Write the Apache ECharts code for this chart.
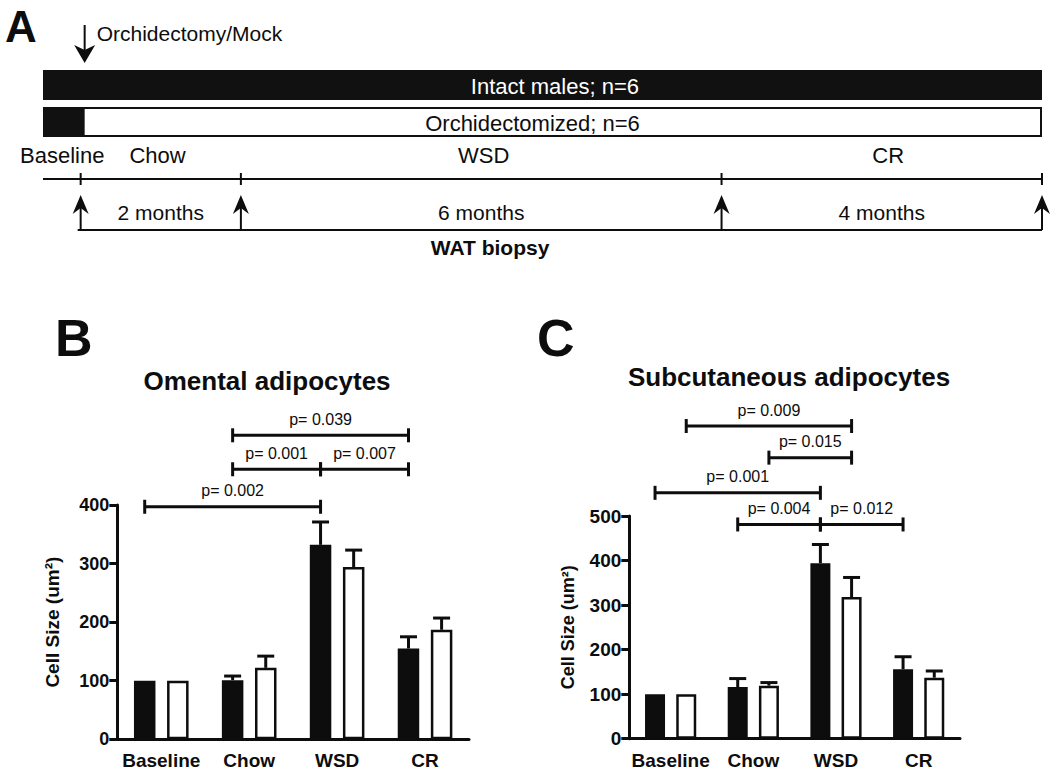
<!DOCTYPE html>
<html><head><meta charset="utf-8">
<script src="https://cdn.jsdelivr.net/npm/echarts@6/dist/echarts.min.js"></script>
<style>html,body{margin:0;padding:0;background:#fff}#c{width:1050px;height:780px}</style>
</head><body><div id="c"></div>
<script>
// ---------------- DATA ----------------
const categories = ['Baseline', 'Chow', 'WSD', 'CR'];
const groupNames = ['Intact males', 'Orchidectomized'];

// Panel B: Omental adipocytes (cell size, um^2)
const omentalIntact    = [100, 101, 332, 155];
const omentalIntactTop = [null, 108, 371, 175];   // top of error bar
const omentalOrx       = [100, 122, 294, 187];
const omentalOrxTop    = [null, 142, 323, 207];
const omentalTicks     = [0, 100, 200, 300, 400];
// brackets: [fromCategory, fromGroup, toCategory, toGroup, level]
const omentalBrackets  = [[0,0,2,0,397],[1,0,2,0,461],[2,0,3,0,461],[1,0,3,0,519]];
const omentalP         = ['p= 0.002','p= 0.001','p= 0.007','p= 0.039'];

// Panel C: Subcutaneous adipocytes
const subcutIntact    = [100, 116, 394, 156];
const subcutIntactTop = [null, 135, 436, 184];
const subcutOrx       = [100, 119, 318, 137];
const subcutOrxTop    = [null, 126, 362, 152];
const subcutTicks     = [0, 100, 200, 300, 400, 500];
const subcutBrackets  = [[0,1,2,1,702],[1,1,2,1,631],[0,0,2,0,552],[1,0,2,0,481],[2,0,3,0,481]];
const subcutP         = ['p= 0.009','p= 0.015','p= 0.001','p= 0.004','p= 0.012'];

// Panel A: study timeline (months)
const cohortNames      = ['Intact males; n=6', 'Orchidectomized; n=6'];
const cohortLabelAt    = [5.92, 5.64];
const orchidectomyMonth = 0.05;
const phaseNames       = ['Baseline', 'Chow', 'WSD', 'CR'];
const phaseLabelAt     = [-0.23, 0.96, 5.03, 10.08];
const biopsyMonths     = [0, 2, 8, 12];
const intervalLabels   = ['2 months', '6 months', '4 months'];
const watLabelAt       = 5.11;

// ---------------- LAYOUT / STYLE ----------------
const FONT = "'Liberation Sans', Arial, Helvetica, sans-serif";
const BLACK = '#0d0d0d';
const timelineStart = -0.47;
const TL = {bar1Top:70, bar2Top:107, barH:30, phaseY:155, lineY:179, tickH:6,
            tip:195, base:214, notch:208, bottom:230, monthsY:212, watY:247,
            orchTop:25, orchTip:63, orchHeadTop:45, orchTextY:33};
const CFG = [{barW:21.5, gap:0.54}, {barW:20, gap:0.56}];

function sideOffset(cfg, side) { return (side === 0 ? -1 : 1) * cfg.barW * (1 + cfg.gap) / 2; }

function barSeries(grid, cfg, name, values, fill) {
  return {type:'bar', name, xAxisIndex:grid, yAxisIndex:grid, data:values,
    barWidth:cfg.barW, barGap:(cfg.gap*100)+'%', z:3,
    itemStyle:{color:fill, borderColor:BLACK, borderWidth:2.5}};
}

function errorSeries(grid, cfg, side, means, tops) {
  const data = [];
  means.forEach((m, i) => { if (tops[i] != null) data.push([i, m, tops[i]]); });
  return {type:'custom', xAxisIndex:grid, yAxisIndex:grid, data, encode:{x:0, y:[1,2]}, z:2,
    renderItem(params, api) {
      const p0 = api.coord([api.value(0), api.value(1)]);
      const p1 = api.coord([api.value(0), api.value(2)]);
      const x = p0[0] + sideOffset(cfg, side);
      const st = {stroke:BLACK, lineWidth:3};
      return {type:'group', children:[
        {type:'line', shape:{x1:x, y1:p0[1], x2:x, y2:p1[1]}, style:st},
        {type:'line', shape:{x1:x-8.5, y1:p1[1], x2:x+8.5, y2:p1[1]}, style:st}
      ]};
    }};
}

function bracketSeries(grid, cfg, brackets, labels) {
  return {type:'custom', xAxisIndex:grid, yAxisIndex:grid, data:brackets, encode:{x:[0,2], y:4}, z:5, clip:false,
    renderItem(params, api) {
      const lv = api.value(4);
      const a = api.coord([api.value(0), lv]);
      const b = api.coord([api.value(2), lv]);
      const x1 = a[0] + sideOffset(cfg, api.value(1));
      const x2 = b[0] + sideOffset(cfg, api.value(3));
      const y = a[1];
      const st = {stroke:BLACK, lineWidth:3};
      return {type:'group', children:[
        {type:'line', shape:{x1, y1:y, x2, y2:y}, style:st},
        {type:'line', shape:{x1:x1, y1:y-7, x2:x1, y2:y+7}, style:st},
        {type:'line', shape:{x1:x2, y1:y-7, x2:x2, y2:y+7}, style:st},
        {type:'text', x:(x1+x2)/2, y:y-16, style:{text:labels[params.dataIndex], align:'center',
          verticalAlign:'middle', fontSize:16, fontFamily:FONT, fill:BLACK}}
      ]};
    }};
}

function xAxisCfg(grid) {
  return {type:'category', gridIndex:grid, data:categories, boundaryGap:true,
    axisLine:{lineStyle:{color:BLACK, width:3}},
    axisTick:{alignWithLabel:true, interval:0, length:8, lineStyle:{color:BLACK, width:3}},
    axisLabel:{interval:0, color:BLACK, fontWeight:'bold', fontSize:19, fontFamily:FONT, margin:12}};
}
function yAxisCfg(grid, ticks, labelSize, nameSize, nameGap) {
  return {type:'value', gridIndex:grid, min:ticks[0], max:ticks[ticks.length-1], interval:ticks[1]-ticks[0],
    name:'Cell Size (um²)', nameLocation:'middle', nameGap,
    nameTextStyle:{color:BLACK, fontWeight:'bold', fontSize:nameSize, fontFamily:FONT},
    axisLine:{show:true, lineStyle:{color:BLACK, width:3}},
    axisTick:{show:true, length:8, lineStyle:{color:BLACK, width:3}},
    splitLine:{show:false},
    axisLabel:{color:BLACK, fontWeight:'bold', fontSize:labelSize, fontFamily:FONT, margin:8}};
}

const chart = echarts.init(document.getElementById('c'), null, {renderer:'svg', width:1050, height:780});

const option = {
  animation:false,
  backgroundColor:'#fff',
  grid:[
    {left:117.3, top:505, width:351.7, height:234.3},
    {left:629.3, top:516, width:330.7, height:222.7},
    {left:43, right:8, top:0, height:260}
  ],
  xAxis:[
    xAxisCfg(0), xAxisCfg(1),
    {type:'value', gridIndex:2, min:timelineStart, max:biopsyMonths[biopsyMonths.length-1], show:false}
  ],
  yAxis:[
    yAxisCfg(0, omentalTicks, 18, 19, 55),
    yAxisCfg(1, subcutTicks, 19, 18, 52),
    {type:'value', gridIndex:2, min:0, max:1, show:false}
  ],
  graphic:[
    {type:'text', x:5, y:26, style:{text:'A', font:'bold 44px '+FONT, fill:BLACK, verticalAlign:'middle'}},
    {type:'text', x:55, y:337.5, style:{text:'B', font:'bold 52px '+FONT, fill:BLACK, verticalAlign:'middle'}},
    {type:'text', x:537, y:338, style:{text:'C', font:'bold 52px '+FONT, fill:BLACK, verticalAlign:'middle'}},
    {type:'text', x:267, y:381, style:{text:'Omental adipocytes', font:'bold 26px '+FONT, fill:BLACK, align:'center', verticalAlign:'middle'}},
    {type:'text', x:789, y:377, style:{text:'Subcutaneous adipocytes', font:'bold 26px '+FONT, fill:BLACK, align:'center', verticalAlign:'middle'}}
  ],
  series:[
    // Panel B
    errorSeries(0, CFG[0], 0, omentalIntact, omentalIntactTop),
    errorSeries(0, CFG[0], 1, omentalOrx, omentalOrxTop),
    barSeries(0, CFG[0], groupNames[0], omentalIntact, BLACK),
    barSeries(0, CFG[0], groupNames[1], omentalOrx, '#ffffff'),
    bracketSeries(0, CFG[0], omentalBrackets, omentalP),
    // Panel C
    errorSeries(1, CFG[1], 0, subcutIntact, subcutIntactTop),
    errorSeries(1, CFG[1], 1, subcutOrx, subcutOrxTop),
    barSeries(1, CFG[1], groupNames[0], subcutIntact, BLACK),
    barSeries(1, CFG[1], groupNames[1], subcutOrx, '#ffffff'),
    bracketSeries(1, CFG[1], subcutBrackets, subcutP),
    // Panel A: cohort bars
    {type:'custom', xAxisIndex:2, yAxisIndex:2, clip:false,
      data:cohortNames.map((n, i) => [timelineStart, biopsyMonths[biopsyMonths.length-1], i]),
      encode:{x:[0,1], y:2},
      renderItem(params, api) {
        const i = params.dataIndex;
        const xs = api.coord([api.value(0), 0])[0];
        const xe = api.coord([api.value(1), 0])[0];
        const top = i === 0 ? TL.bar1Top : TL.bar2Top;
        const ch = [];
        if (i === 0) {
          ch.push({type:'rect', shape:{x:xs, y:top, width:xe-xs, height:TL.barH}, style:{fill:'#111'}});
        } else {
          const xo = api.coord([orchidectomyMonth, 0])[0];
          ch.push({type:'rect', shape:{x:xs+1, y:top+1, width:xe-xs-2, height:TL.barH-2}, style:{fill:'#fff', stroke:'#111', lineWidth:2}});
          ch.push({type:'rect', shape:{x:xs, y:top, width:xo-xs, height:TL.barH}, style:{fill:'#111'}});
        }
        const xl = api.coord([cohortLabelAt[i], 0])[0];
        ch.push({type:'text', x:xl, y:top+TL.barH/2+1, style:{text:cohortNames[i], align:'center', verticalAlign:'middle',
          fontSize:22, fontFamily:FONT, fill:i === 0 ? '#fff' : BLACK}});
        return {type:'group', children:ch};
      }},
    // Panel A: orchidectomy arrow
    {type:'custom', xAxisIndex:2, yAxisIndex:2, clip:false, data:[[orchidectomyMonth, 0]],
      renderItem(params, api) {
        const x = api.coord([api.value(0), 0])[0];
        return {type:'group', children:[
          {type:'line', shape:{x1:x, y1:TL.orchTop, x2:x, y2:TL.orchTip-8}, style:{stroke:BLACK, lineWidth:2}},
          {type:'polygon', shape:{points:[[x, TL.orchTip], [x-10.5, TL.orchHeadTop], [x, TL.orchHeadTop+5], [x+10.5, TL.orchHeadTop]]}, style:{fill:BLACK}},
          {type:'text', x:x+12, y:TL.orchTextY, style:{text:'Orchidectomy/Mock', fontSize:21, fontFamily:FONT, fill:BLACK, verticalAlign:'middle'}}
        ]};
      }},
    // Panel A: phase labels
    {type:'custom', xAxisIndex:2, yAxisIndex:2, clip:false, data:phaseLabelAt.map(v => [v, 0]),
      renderItem(params, api) {
        const x = api.coord([api.value(0), 0])[0];
        return {type:'text', x, y:TL.phaseY, style:{text:phaseNames[params.dataIndex], align:'center', verticalAlign:'middle',
          fontSize:22, fontFamily:FONT, fill:BLACK}};
      }},
    // Panel A: timeline, biopsy arrows and interval labels
    {type:'custom', xAxisIndex:2, yAxisIndex:2, clip:false, data:biopsyMonths.map(v => [v, 0]),
      renderItem(params, api) {
        const i = params.dataIndex;
        const x = api.coord([api.value(0), 0])[0];
        const ch = [];
        const st = {stroke:BLACK, lineWidth:2};
        if (i === 0) {
          const xs = api.coord([timelineStart, 0])[0];
          const xe = api.coord([biopsyMonths[biopsyMonths.length-1], 0])[0];
          ch.push({type:'line', shape:{x1:xs, y1:TL.lineY, x2:xe, y2:TL.lineY}, style:st});
          ch.push({type:'line', shape:{x1:x-3, y1:TL.bottom, x2:xe, y2:TL.bottom}, style:st});
          const xw = api.coord([watLabelAt, 0])[0];
          ch.push({type:'text', x:xw, y:TL.watY, style:{text:'WAT biopsy', align:'center', verticalAlign:'middle',
            fontSize:21, fontWeight:'bold', fontFamily:FONT, fill:BLACK}});
        } else {
          const xp = api.coord([biopsyMonths[i-1], 0])[0];
          ch.push({type:'text', x:(xp+x)/2, y:TL.monthsY, style:{text:intervalLabels[i-1], align:'center', verticalAlign:'middle',
            fontSize:21, fontFamily:FONT, fill:BLACK}});
        }
        ch.push({type:'line', shape:{x1:x, y1:TL.lineY-TL.tickH, x2:x, y2:TL.lineY+TL.tickH}, style:st});
        ch.push({type:'line', shape:{x1:x, y1:TL.notch, x2:x, y2:TL.bottom}, style:st});
        ch.push({type:'polygon', shape:{points:[[x, TL.tip], [x-8, TL.base], [x, TL.notch], [x+8, TL.base]]}, style:{fill:BLACK}});
        return {type:'group', children:ch};
      }}
  ]
};
chart.setOption(option);
</script>
</body></html>
